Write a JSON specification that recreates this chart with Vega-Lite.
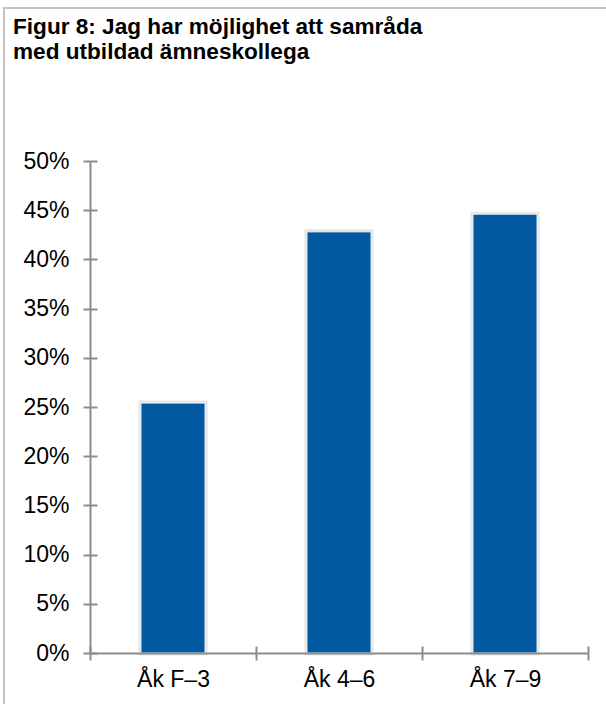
{
  "$schema": "https://vega.github.io/schema/vega-lite/v6.json",
  "autosize": "none",
  "padding": {"left": 4, "top": 8, "right": 0, "bottom": 0},
  "width": 620,
  "height": 700,
  "background": "white",
  "title": {
    "text": ["Figur 8: Jag har möjlighet att samråda", "med utbildad ämneskollega"],
    "anchor": "start",
    "frame": "group",
    "orient": "top",
    "baseline": "bottom",
    "offset": -79,
    "dx": 9,
    "font": "Liberation Sans",
    "fontSize": 22.6,
    "fontWeight": "bold",
    "color": "#000000",
    "lineHeight": 25
  },
  "data": {
    "values": [
      {"grupp": "Åk F–3", "andel": 0.254},
      {"grupp": "Åk 4–6", "andel": 0.428},
      {"grupp": "Åk 7–9", "andel": 0.446}
    ]
  },
  "layer": [
    {
      "mark": {"type": "bar", "color": "#e6e6e6", "stroke": "#e6e6e6", "strokeWidth": 5, "width": {"band": 0.386}},
      "encoding": {
        "x": {
          "field": "grupp",
          "type": "nominal",
          "sort": null,
          "scale": {"range": [86, 584], "paddingInner": 0, "paddingOuter": 0},
          "axis": {
            "title": null,
            "orient": "bottom",
            "offset": -62,
            "domain": false,
            "labels": false,
            "tickBand": "extent",
            "tickSize": 7,
            "tickColor": "#8c8c8c",
            "tickWidth": 2,
            "zindex": 1
          }
        },
        "y": {
          "field": "andel",
          "type": "quantitative",
          "scale": {"domain": [0, 0.5], "range": [645, 153], "nice": false, "zero": true},
          "axis": {
            "title": null,
            "orient": "left",
            "offset": -93,
            "domain": false,
            "labels": false,
            "grid": false,
            "values": [0, 0.05, 0.1, 0.15, 0.2, 0.25, 0.3, 0.35, 0.4, 0.45, 0.5],
            "tickSize": 7,
            "tickColor": "#8c8c8c",
            "tickWidth": 2,
            "zindex": 1
          }
        }
      }
    },
    {
      "mark": {"type": "bar", "color": "#0059A1", "stroke": "#f2f6fa", "strokeWidth": 1, "width": {"band": 0.386}},
      "encoding": {
        "x": {
          "field": "grupp",
          "type": "nominal",
          "sort": null,
          "axis": {
            "title": null,
            "orient": "bottom",
            "offset": -55,
            "labelAngle": 0,
            "tickBand": "extent",
            "tickSize": 7,
            "labelPadding": 8,
            "labelFontSize": 23,
            "labelFont": "Liberation Sans",
            "labelColor": "#000000",
            "domainColor": "#8c8c8c",
            "tickColor": "#8c8c8c",
            "domainWidth": 2,
            "tickWidth": 2,
            "zindex": 1
          }
        },
        "y": {
          "field": "andel",
          "type": "quantitative",
          "axis": {
            "title": null,
            "orient": "left",
            "offset": -86,
            "format": ".0%",
            "values": [0, 0.05, 0.1, 0.15, 0.2, 0.25, 0.3, 0.35, 0.4, 0.45, 0.5],
            "grid": false,
            "tickSize": 7,
            "labelPadding": 14,
            "labelFontSize": 23,
            "labelFont": "Liberation Sans",
            "labelColor": "#000000",
            "domainColor": "#8c8c8c",
            "tickColor": "#8c8c8c",
            "domainWidth": 2,
            "tickWidth": 2,
            "zindex": 1
          }
        }
      }
    }
  ],
  "resolve": {"axis": {"x": "independent", "y": "independent"}},
  "config": {
    "view": {"stroke": "#c4c4c4", "strokeWidth": 2}
  }
}
